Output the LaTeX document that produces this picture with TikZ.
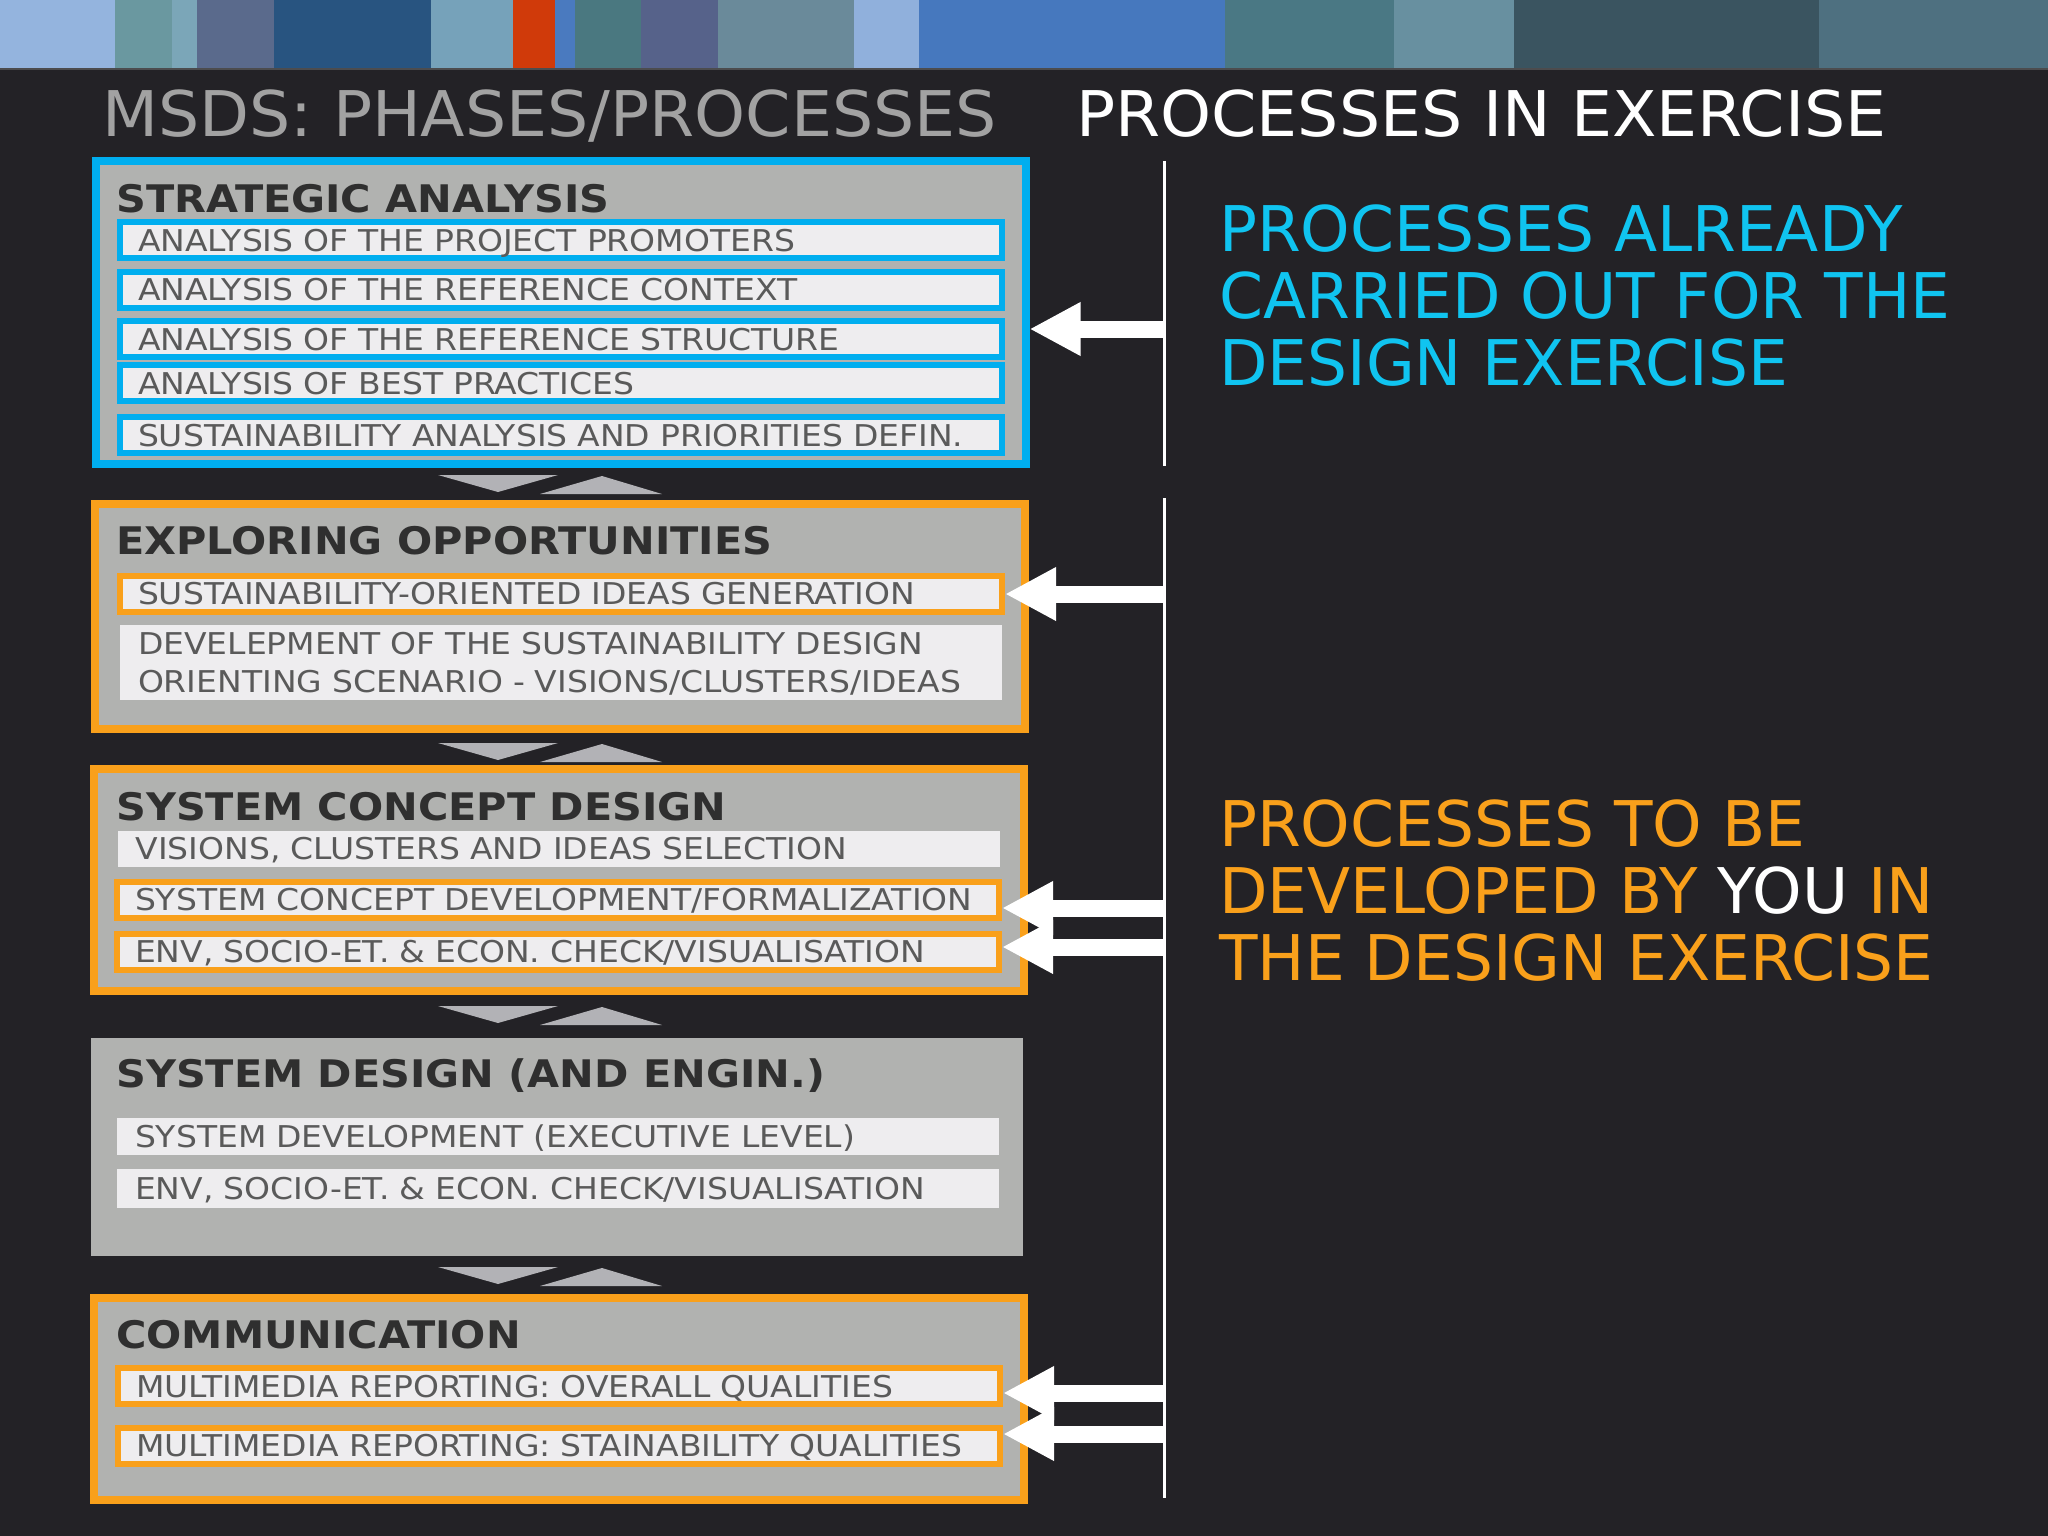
\documentclass[tikz,border=0pt]{standalone}
\usepackage{fontspec}
\setmainfont{DejaVu Sans}
\newfontfamily\headfont{DejaVu Sans}[FakeStretch=1.03]
\newfontfamily\titlefont{DejaVu Sans}[FakeStretch=1.09]
\newfontfamily\itemfont{DejaVu Sans}[FakeStretch=1.1]
\usepackage{xcolor}
\usetikzlibrary{arrows.meta, positioning}

\definecolor{slidebg}{HTML}{232226}
\definecolor{boxgray}{HTML}{B1B2B0}
\definecolor{itemfill}{HTML}{EEEDEF}
\definecolor{itemtext}{HTML}{5A5A5A}
\definecolor{titletext}{HTML}{2F2F2F}
\definecolor{headgray}{HTML}{A2A2A2}
\definecolor{sablue}{HTML}{00AEEF}
\definecolor{saorange}{HTML}{F9A01B}
\definecolor{donecyan}{HTML}{10C4F0}
\definecolor{chevgray}{HTML}{B2B2B6}

\begin{document}
\begin{tikzpicture}[x=1pt, y=-1pt,
    phase/.style={rectangle, fill=boxgray, minimum width=930pt, inner sep=0pt},
    phasetitle/.style={anchor=base west, inner sep=0pt, text=titletext, font=\titlefont\fontsize{38}{40}\selectfont\bfseries},
    item/.style={rectangle, fill=itemfill, minimum width=882pt, minimum height=36pt, inner xsep=18pt, inner ysep=0pt,
      text width=846pt, align=left, text=itemtext, text height=22pt, text depth=0pt, font=\itemfont\fontsize{30}{38}\selectfont},
    blueitem/.style={item, draw=sablue, line width=6pt},
    orangeitem/.style={item, draw=saorange, line width=6pt},
    bigarrow/.style={white, line width=17pt, -{Triangle[length=51pt, width=50pt]}},
    chevron/.style={fill=chevgray}]
    \useasboundingbox (0,0) rectangle (2048,1536);
    \fill[slidebg] (0,0) rectangle (2048,1536);

    % Colour stripes along the top
    \foreach \xa/\xb/\c in {0/115/94B4DE, 115/172/6A98A0, 172/197/7BA6B8, 197/274/5A6A8C, 274/431/285480,
        431/513/76A2BA, 513/555/D03A0A, 555/575/4A7ABF, 575/641/4A7880, 641/718/56628A, 718/854/6A8A9A,
        854/919/90B0DC, 919/1225/4678BE, 1225/1394/4A7884, 1394/1514/6890A0, 1514/1819/3A5460, 1819/2048/4E7080}
        {\definecolor{stripe}{HTML}{\c}\fill[stripe] (\xa,0) rectangle (\xb,68);}
    \fill[gray!45!slidebg] (0,68) rectangle (2048,70);

    % Headings
    \node[anchor=base west, inner sep=0pt, text=headgray, font=\headfont\fontsize{63}{67}\selectfont] (lefthead) at (102,136) {MSDS: PHASES/PROCESSES};
    \node[anchor=base west, inner sep=0pt, text=white, font=\headfont\fontsize{63}{67}\selectfont] (righthead) at (1076,136) {PROCESSES IN EXERCISE};

    % Phase boxes
    \node[phase, draw=sablue, line width=8pt, minimum height=303pt] (strat) at (560.5,312.5) {};
    \node[phase, draw=saorange, line width=8pt, minimum height=225pt] (explore) at (560,616.5) {};
    \node[phase, draw=saorange, line width=8pt, minimum height=222pt] (concept) at (559,880) {};
    \node[phase, minimum width=932pt, minimum height=218pt] (sysdes) at (557,1147) {};
    \node[phase, draw=saorange, line width=8pt, minimum height=202pt] (comm) at (559,1399) {};

    \node[phasetitle] (strattitle) at (116,212) {STRATEGIC ANALYSIS};
    \node[phasetitle] (exploretitle) at (116,554) {EXPLORING OPPORTUNITIES};
    \node[phasetitle] (concepttitle) at (116,820) {SYSTEM CONCEPT DESIGN};
    \node[phasetitle] (sysdestitle) at (116,1087) {SYSTEM DESIGN (AND ENGIN.)};
    \node[phasetitle] (commtitle) at (116,1348) {COMMUNICATION};

    % Processes inside each phase
    \node[blueitem] (promoters) at (561,240) {ANALYSIS OF THE PROJECT PROMOTERS};
    \node[blueitem] (context) at (561,289.5) {ANALYSIS OF THE REFERENCE CONTEXT};
    \node[blueitem] (structure) at (561,339) {ANALYSIS OF THE REFERENCE STRUCTURE};
    \node[blueitem] (practices) at (561,383) {ANALYSIS OF BEST PRACTICES};
    \node[blueitem] (priorities) at (561,435) {SUSTAINABILITY ANALYSIS AND PRIORITIES DEFIN.};

    \node[orangeitem] (ideas) at (561,593.5) {SUSTAINABILITY-ORIENTED IDEAS GENERATION};
    \node[item, minimum height=75pt, text depth=38pt] (scenario) at (561,662.5)
        {DEVELEPMENT OF THE SUSTAINABILITY DESIGN\\ORIENTING SCENARIO - VISIONS/CLUSTERS/IDEAS};

    \node[item] (selection) at (558.5,848.5) {VISIONS, CLUSTERS AND IDEAS SELECTION};
    \node[orangeitem] (formal) at (558,899.5) {\mbox{SYSTEM CONCEPT DEVELOPMENT/FORMALIZATION}};
    \node[orangeitem] (check) at (558,951.5) {ENV, SOCIO-ET. \& ECON. CHECK/VISUALISATION};

    \node[item, minimum height=37pt] (executive) at (558,1136.5) {SYSTEM DEVELOPMENT (EXECUTIVE LEVEL)};
    \node[item, minimum height=39pt] (syscheck) at (558,1188.5) {ENV, SOCIO-ET. \& ECON. CHECK/VISUALISATION};

    \node[orangeitem] (overall) at (559,1386) {MULTIMEDIA REPORTING: OVERALL QUALITIES};
    \node[orangeitem] (stain) at (559,1445.5) {MULTIMEDIA REPORTING: STAINABILITY QUALITIES};

    % Chevrons between phases
    \foreach \t in {475,743,1006,1267}
        {\fill[chevron] (438,\t) -- (558,\t) -- (498,\t+17) -- cycle;
         \fill[chevron] (540,\t+19) -- (662,\t+19) -- (602,\t+1) -- cycle;}

    % Arrows from the exercise column
    \coordinate (a1) at (1164,329);
    \coordinate (a2) at (1164,594);
    \coordinate (a3) at (1164,908);
    \coordinate (a4) at (1164,947);
    \coordinate (a5) at (1164,1393);
    \coordinate (a6) at (1164,1434);
    \draw[bigarrow] (a1) -- (a1 -| strat.east);
    \draw[bigarrow] (a2) -- (a2 -| ideas.east);
    \draw[bigarrow] (a3) -- (a3 -| formal.east);
    \draw[bigarrow] (a4) -- (a4 -| check.east);
    \draw[bigarrow] (a5) -- (a5 -| overall.east);
    \draw[bigarrow] (a6) -- (a6 -| stain.east);

    % Separators
    \draw[white, line width=3pt] (1164.5,161) -- (1164.5,466);
    \draw[white, line width=3pt] (1164.5,498) -- (1164.5,1498);

    % Notes on the right
    \node[anchor=north west, inner sep=0pt, align=left, text=donecyan, font=\fontsize{63}{67}\selectfont] (donenote) at (1219,205)
        {PROCESSES ALREADY\\CARRIED OUT FOR THE\\DESIGN EXERCISE};
    \node[anchor=north west, inner sep=0pt, align=left, text=saorange, font=\fontsize{63}{67}\selectfont] (todonote) at (1219,800)
        {PROCESSES TO BE\\DEVELOPED BY {\color{white}YOU} IN\\THE DESIGN EXERCISE};
\end{tikzpicture}
\end{document}
